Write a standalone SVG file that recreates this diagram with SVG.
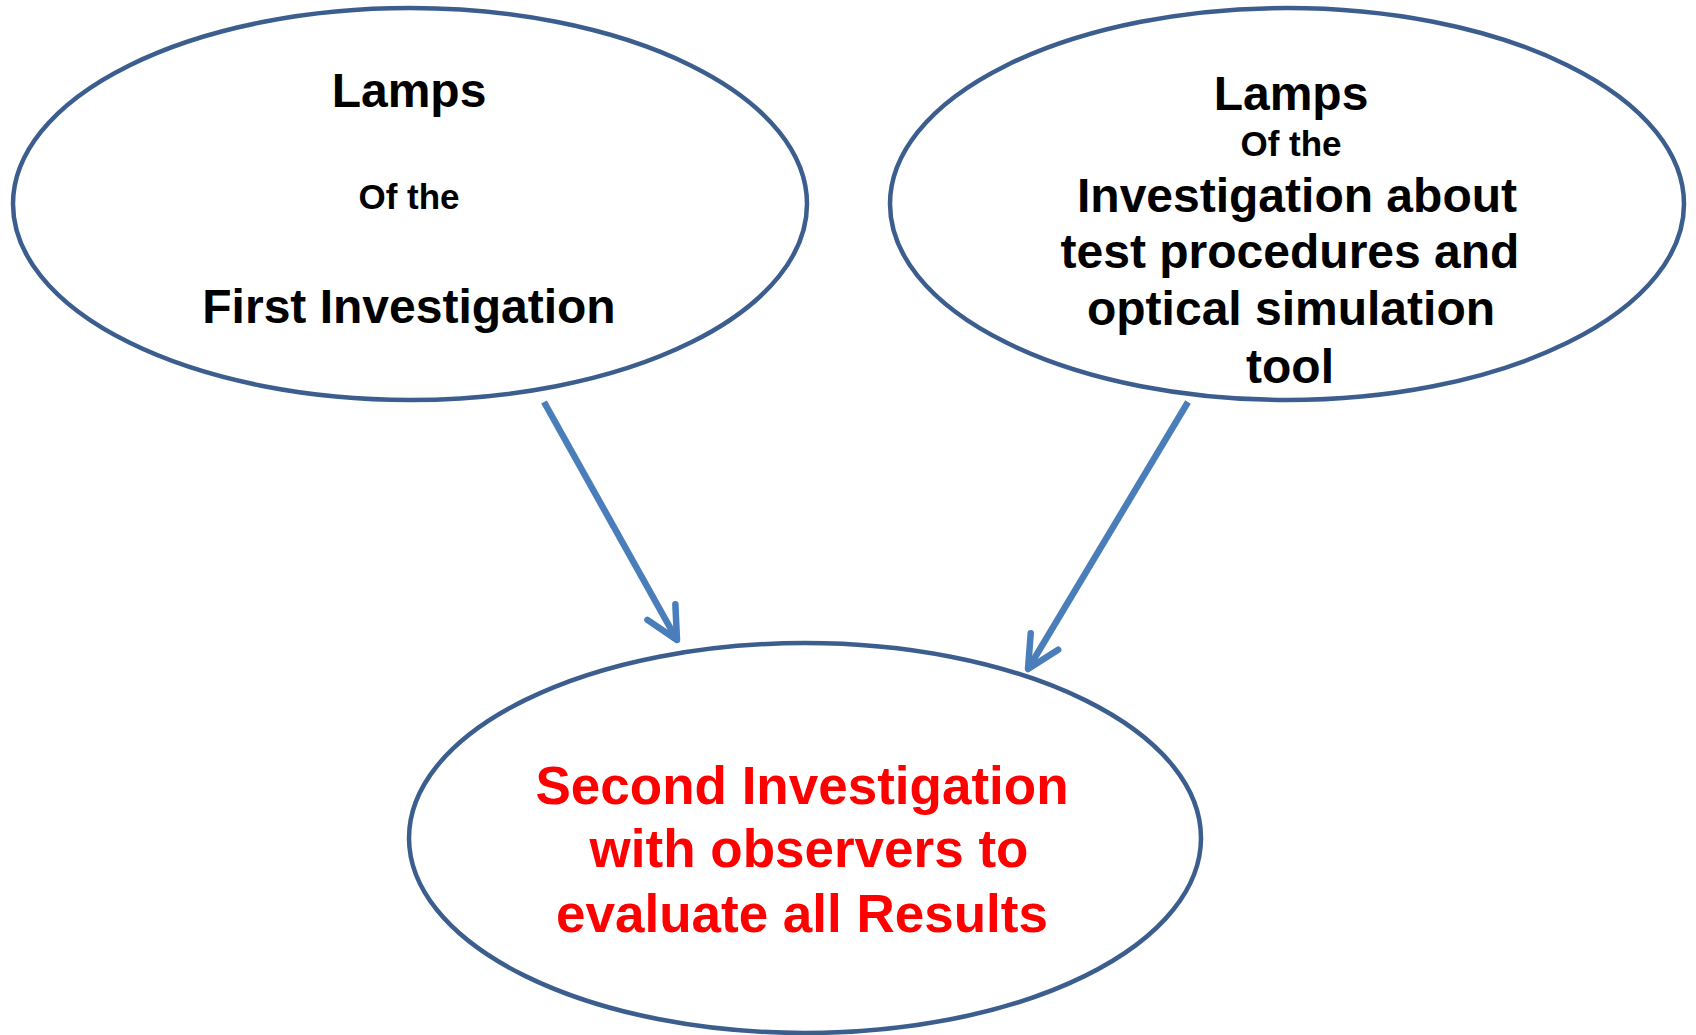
<svg xmlns="http://www.w3.org/2000/svg" width="1696" height="1035" viewBox="0 0 1696 1035">
<style>
.node{fill:#ffffff;stroke:#3B5E8E;stroke-width:4.5}
.t{font-family:"Liberation Sans",Arial,sans-serif;font-weight:bold;text-anchor:middle;fill:#000000}
.big{font-size:48px}
.small{font-size:35px}
.red{font-size:53px;fill:#FF0000}
.conn{fill:none;stroke:#4A7EBB;stroke-width:6.5}
</style>
<defs>
<marker id="arrow" markerUnits="userSpaceOnUse" viewBox="-40 -22 46 44" markerWidth="46" markerHeight="44" refX="0" refY="0" orient="auto" overflow="visible">
<path d="M-32,-16 L0,0 L-32,16" fill="none" stroke="#4A7EBB" stroke-width="6.5" stroke-linecap="round" stroke-linejoin="round"/>
</marker>
</defs>
<rect width="1696" height="1035" fill="#ffffff"/>
<g id="node-first">
<ellipse class="node" cx="410" cy="204" rx="397" ry="196"/>
<text class="t big" x="409" y="107">Lamps</text>
<text class="t small" x="409" y="209">Of the</text>
<text class="t big" x="409" y="323">First Investigation</text>
</g>
<g id="node-test">
<ellipse class="node" cx="1287" cy="204" rx="397" ry="196"/>
<text class="t big" x="1291" y="110">Lamps</text>
<text class="t small" x="1291" y="156">Of the</text>
<text class="t big" x="1297" y="212">Investigation about</text>
<text class="t big" x="1290" y="268">test procedures and</text>
<text class="t big" x="1291" y="325">optical simulation</text>
<text class="t big" x="1290" y="383">tool</text>
</g>
<g id="node-second">
<ellipse class="node" cx="805" cy="838" rx="396" ry="195"/>
<text class="t red" x="802" y="804">Second Investigation</text>
<text class="t red" x="809" y="867">with observers to</text>
<text class="t red" x="802" y="932">evaluate all Results</text>
</g>
<g id="connectors">
<line class="conn" x1="544" y1="402" x2="677" y2="640" marker-end="url(#arrow)"/>
<line class="conn" x1="1188" y1="402" x2="1028" y2="669" marker-end="url(#arrow)"/>
</g>
</svg>
